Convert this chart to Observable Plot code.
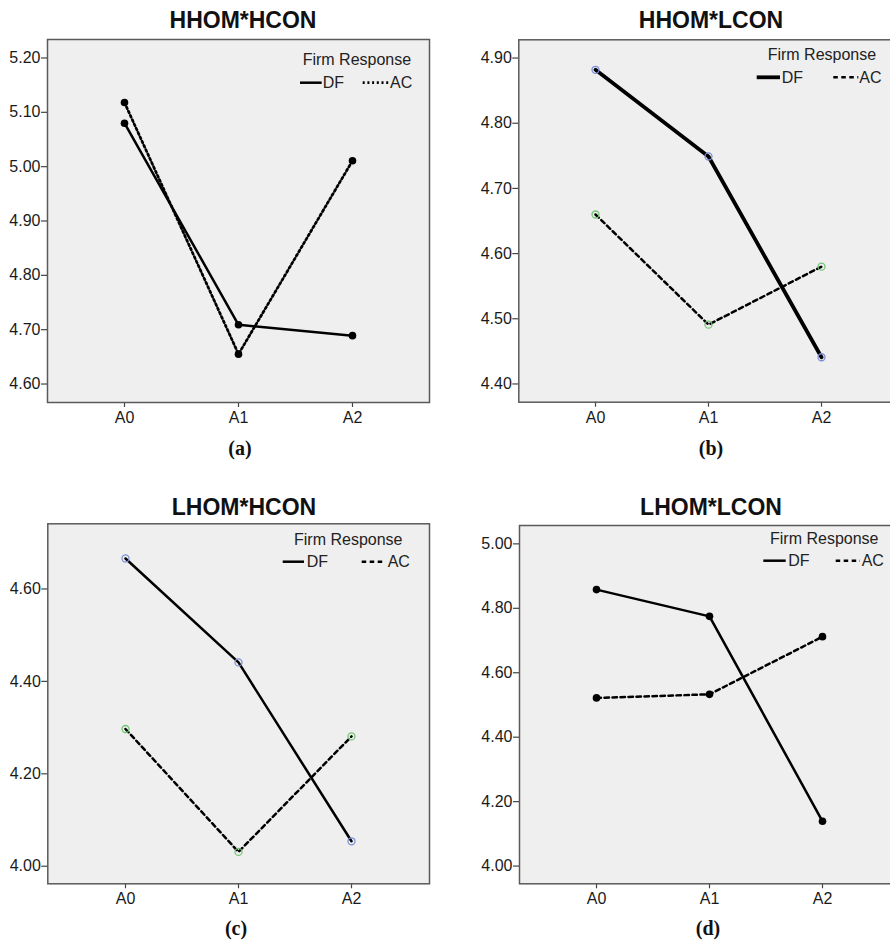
<!DOCTYPE html>
<html><head><meta charset="utf-8">
<script src="https://cdn.jsdelivr.net/npm/d3@7"></script>
<script src="https://cdn.jsdelivr.net/npm/@observablehq/plot@0.6"></script>
<style>
html,body{margin:0;padding:0;background:#fff;overflow:hidden}
#wrap{position:relative;width:890px;height:941px;overflow:hidden;background:#fff}
#wrap > svg{position:absolute}
</style></head><body><div id="wrap"></div>
<script>
// ---- data ----
const categories = ["A0", "A1", "A2"];
const seriesNames = ["DF", "AC"];
const legendTitle = "Firm Response";
const panelTitles = ["HHOM*HCON", "HHOM*LCON", "LHOM*HCON", "LHOM*LCON"];
const panelLabels = ["(a)", "(b)", "(c)", "(d)"];

const aDF = [5.080, 4.709, 4.689];
const aAC = [5.118, 4.655, 5.011];
const bDF = [4.882, 4.749, 4.441];
const bAC = [4.660, 4.491, 4.580];
const cDF = [4.666, 4.441, 4.054];
const cAC = [4.297, 4.031, 4.281];
const dDF = [4.858, 4.775, 4.139];
const dAC = [4.522, 4.533, 4.712];

const aTicks = [4.6, 4.7, 4.8, 4.9, 5.0, 5.1, 5.2];
const bTicks = [4.4, 4.5, 4.6, 4.7, 4.8, 4.9];
const cTicks = [4.0, 4.2, 4.4, 4.6];
const dTicks = [4.0, 4.2, 4.4, 4.6, 4.8, 5.0];

const aDomain = [4.566, 5.234];
const bDomain = [4.372, 4.928];
const cDomain = [3.962, 4.741];
const dDomain = [3.945, 5.057];

// ---- layout / style ----
const FONT = "'Liberation Sans', Arial, sans-serif";
const BLUE = "#7d8fd6", GREEN = "#74c474";
const panels = [
  {df: aDF, ac: aAC, ticks: aTicks, domain: aDomain,
   left: 0, top: 0, fx0: 47, fx1: 429, fy0: 39, fy1: 402, w: 440, h: 440,
   dfW: 2.5, acDash: "2,2.7", acW: 2.7, open: false,
   titleX: 243, titleY: 28, labX: 240, labY: 455,
   lg: {tx: 302.7, ty: 65, ly: 82.7, dl: [300, 321.7], dtx: 322.7, al: [362.7, 388.3], atx: 390, tby: 88.3}},
  {df: bDF, ac: bAC, ticks: bTicks, domain: bDomain,
   left: 445, top: 0, fx0: 518.3, fx1: 897.7, fy0: 39.3, fy1: 401.7, w: 463, h: 440,
   dfW: 3.8, acDash: "4.5,3.5", acW: 2.5, open: true,
   titleX: 711, titleY: 28.3, labX: 711, labY: 455,
   lg: {tx: 767.7, ty: 60, ly: 77.3, dl: [756.7, 780], dtx: 781.7, al: [833.3, 858.3], atx: 859.3, tby: 82.7}},
  {df: cDF, ac: cAC, ticks: cTicks, domain: cDomain,
   left: 0, top: 470, fx0: 47.3, fx1: 429, fy0: 523.3, fy1: 883.3, w: 440, h: 440,
   dfW: 2.5, acDash: "4.5,3.5", acW: 2.5, open: true,
   titleX: 244, titleY: 515, labX: 236, labY: 935,
   lg: {tx: 294, ty: 545, ly: 561.7, dl: [282.7, 304], dtx: 306.7, al: [361.7, 385], atx: 387.7, tby: 567.3}},
  {df: dDF, ac: dAC, ticks: dTicks, domain: dDomain,
   left: 445, top: 470, fx0: 519, fx1: 898, fy0: 525, fy1: 883.3, w: 463, h: 440,
   dfW: 2.5, acDash: "4.5,3.5", acW: 2.5, open: false,
   titleX: 711, titleY: 515, labX: 708, labY: 935,
   lg: {tx: 770, ty: 544, ly: 560.7, dl: [763.3, 785.7], dtx: 788.3, al: [835.7, 860], atx: 861.7, tby: 566}}
];

const wrap = document.getElementById("wrap");

panels.forEach((p, i) => {
  const rows = categories.flatMap((c, k) => [
    {a: c, v: p.df[k], s: seriesNames[0]},
    {a: c, v: p.ac[k], s: seriesNames[1]}
  ]);
  const dfRows = rows.filter(r => r.s === "DF");
  const acRows = rows.filter(r => r.s === "AC");
  const dotMarks = p.open
    ? [Plot.dot(dfRows, {x: "a", y: "v", r: 3.5, stroke: BLUE, strokeWidth: 1.3, fill: "none"}),
       Plot.dot(acRows, {x: "a", y: "v", r: 3.5, stroke: GREEN, strokeWidth: 1.3, fill: "none"})]
    : [Plot.dot(rows, {x: "a", y: "v", r: 3.8, fill: "#000", stroke: "none"})];
  const svg = Plot.plot({
    width: p.w, height: p.h,
    marginLeft: p.fx0 - p.left,
    marginRight: p.left + p.w - p.fx1,
    marginTop: p.fy0 - p.top,
    marginBottom: p.top + p.h - p.fy1,
    x: {type: "point", domain: categories, padding: 0.675},
    y: {domain: p.domain},
    style: {fontFamily: FONT, fontSize: "16px", color: "#1a1a1a", background: "transparent", overflow: "visible"},
    marks: [
      Plot.frame({fill: "#efefef", stroke: "none"}),
      Plot.axisY({ticks: p.ticks, tickFormat: d => d.toFixed(2), tickSize: 6, tickPadding: 1, label: null, stroke: "#444", strokeWidth: 1.2, fontSize: 16}),
      Plot.axisX({tickSize: 5, tickPadding: 4, label: null, stroke: "#444", strokeWidth: 1.2, fontSize: 16}),
      Plot.line(dfRows, {x: "a", y: "v", stroke: "#000", strokeWidth: p.dfW}),
      Plot.line(acRows, {x: "a", y: "v", stroke: "#000", strokeWidth: p.acW, strokeDasharray: p.acDash}),
      ...dotMarks,
      Plot.frame({stroke: "#5a5a5a", strokeWidth: 1.5})
    ]
  });
  svg.style.left = p.left + "px";
  svg.style.top = p.top + "px";
  wrap.appendChild(svg);
});

// overlay with titles, legends and panel labels
const ov = d3.select(wrap).append("svg")
  .attr("width", 890).attr("height", 941)
  .style("left", "0px").style("top", "0px").style("pointer-events", "none");

panels.forEach((p, i) => {
  ov.append("text").attr("x", p.titleX).attr("y", p.titleY)
    .attr("text-anchor", "middle").attr("font-family", FONT)
    .attr("font-weight", "bold").attr("font-size", 23).attr("fill", "#111")
    .text(panelTitles[i]);
  ov.append("text").attr("x", p.labX).attr("y", p.labY)
    .attr("text-anchor", "middle").attr("font-family", "'Liberation Serif', 'Times New Roman', serif")
    .attr("font-weight", "bold").attr("font-size", 20).attr("fill", "#111")
    .text(panelLabels[i]);
  const g = p.lg;
  ov.append("text").attr("x", g.tx).attr("y", g.ty).attr("font-family", FONT)
    .attr("font-size", 16).attr("fill", "#222").text(legendTitle);
  ov.append("line").attr("x1", g.dl[0]).attr("x2", g.dl[1]).attr("y1", g.ly).attr("y2", g.ly)
    .attr("stroke", "#000").attr("stroke-width", p.dfW);
  ov.append("text").attr("x", g.dtx).attr("y", g.tby).attr("font-family", FONT)
    .attr("font-size", 16).attr("fill", "#222").text(seriesNames[0]);
  ov.append("line").attr("x1", g.al[0]).attr("x2", g.al[1]).attr("y1", g.ly).attr("y2", g.ly)
    .attr("stroke", "#000").attr("stroke-width", p.acW).attr("stroke-dasharray", p.acDash);
  ov.append("text").attr("x", g.atx).attr("y", g.tby).attr("font-family", FONT)
    .attr("font-size", 16).attr("fill", "#222").text(seriesNames[1]);
});
</script>
</body></html>
